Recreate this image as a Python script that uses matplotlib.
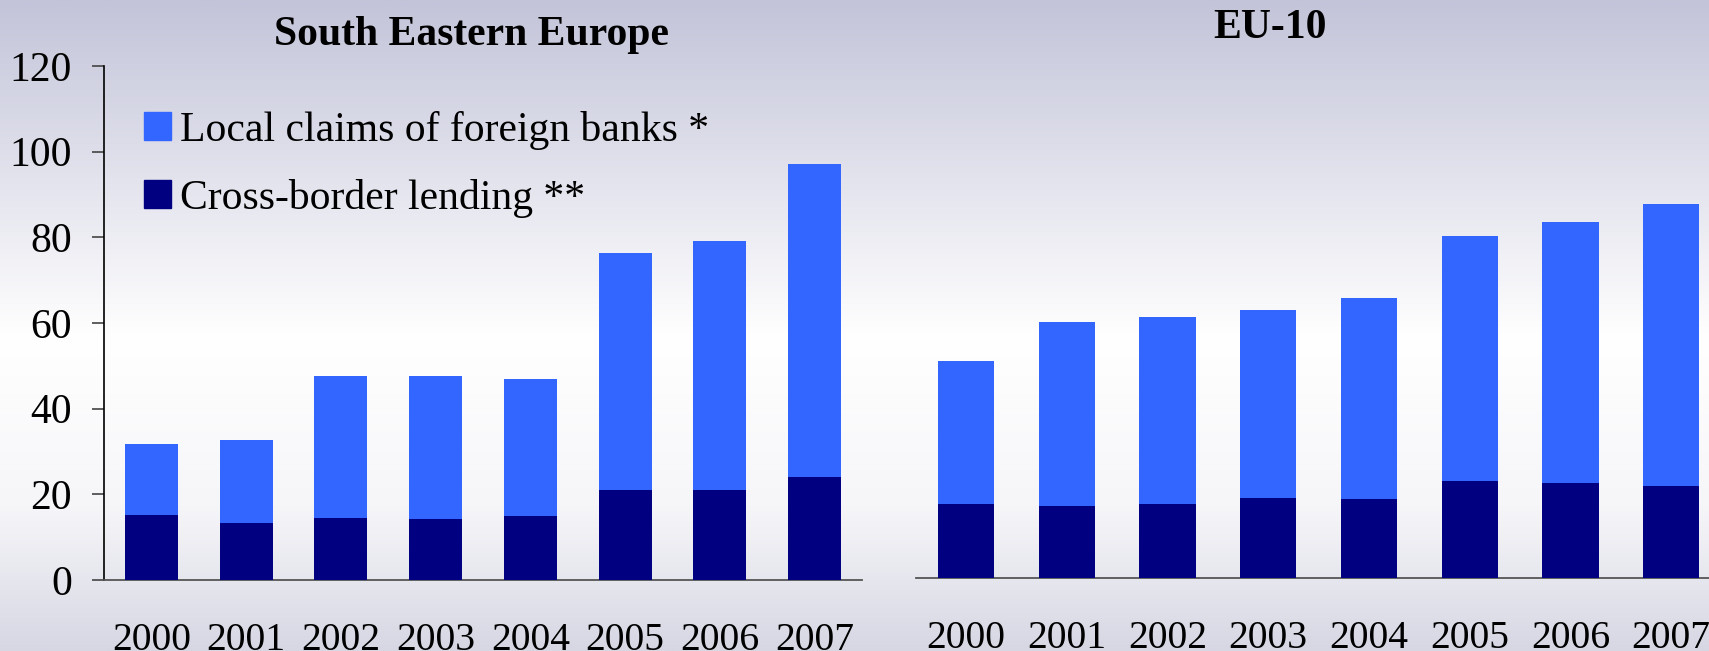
import numpy as np
import matplotlib.pyplot as plt
from matplotlib.colors import LinearSegmentedColormap
from matplotlib.patches import Patch

years = ['2000', '2001', '2002', '2003', '2004', '2005', '2006', '2007']

# South Eastern Europe
see_cross = [15.2, 13.3, 14.5, 14.2, 14.9, 21.1, 21.1, 24.1]
see_total = [31.8, 32.7, 47.6, 47.6, 46.9, 76.4, 79.2, 97.1]

# EU-10
eu_cross = [17.3, 16.8, 17.3, 18.7, 18.4, 22.6, 22.2, 21.5]
eu_total = [50.6, 59.7, 60.9, 62.5, 65.4, 79.9, 83.1, 87.4]

light = '#3366FF'
dark = '#000080'

plt.rcParams['font.family'] = ['Liberation Serif', 'DejaVu Serif']

W, H = 1709, 651
fig = plt.figure(figsize=(W / 100, H / 100), dpi=100)

# background gradient
bg = fig.add_axes([0, 0, 1, 1], zorder=-10)
cmap = LinearSegmentedColormap.from_list('bg', [(0, '#C3C4D9'), (0.52, '#FFFFFF'), (0.78, '#F6F6F9'), (1, '#D7D7E4')])
grad = np.linspace(0, 1, 256).reshape(-1, 1)
bg.imshow(grad, aspect='auto', cmap=cmap, extent=[0, 1, 1, 0])
bg.axis('off')

fs = 30
x = np.arange(len(years))


def panel(rect, cross, total, title_x, title_y, title):
    ax = fig.add_axes(rect)
    ax.set_facecolor('none')
    local = [t - c for t, c in zip(total, cross)]
    ax.bar(x, cross, width=0.56, color=dark, zorder=3)
    ax.bar(x, local, width=0.56, bottom=cross, color=light, zorder=3)
    ax.set_xlim(-0.5, 7.5)
    ax.set_ylim(0, 120)
    ax.set_xticks(x)
    ax.set_xticklabels(years, fontsize=28.5)
    ax.tick_params(axis='x', length=0, pad=30)
    for s in ['top', 'right']:
        ax.spines[s].set_visible(False)
    ax.spines['bottom'].set_color('#555555')
    ax.spines['bottom'].set_linewidth(1.3)
    fig.text(title_x / W, 1 - title_y / H, title, fontsize=fs, fontweight='bold',
             ha='center', va='center')
    return ax


ax1 = panel([104 / W, 71 / H, 758 / W, 514 / H], see_cross, see_total, 472, 35,
            'South Eastern Europe')
ax1.set_yticks(np.arange(0, 121, 20))
ax1.tick_params(axis='y', labelsize=fs, length=9, width=1.2, color='#444444', pad=14)
ax1.spines['left'].set_color('black')
ax1.spines['left'].set_linewidth(1.2)

ax2 = panel([915.6 / W, 73 / H, 806 / W, 514 / H], eu_cross, eu_total, 1270, 28, 'EU-10')
ax2.spines['left'].set_visible(False)
ax2.set_yticks([])

handles = [Patch(color=light, label='Local claims of foreign banks *'),
           Patch(color=dark, label='Cross-border lending **')]
fig.legend(handles=handles, loc='upper left', bbox_to_anchor=(144 / W, 1 - 111 / H),
           frameon=False, fontsize=fs, handlelength=0.65, handleheight=0.65,
           handletextpad=0.22, labelspacing=0.69, borderpad=0, borderaxespad=0)

fig.savefig('out.png', dpi=100)
